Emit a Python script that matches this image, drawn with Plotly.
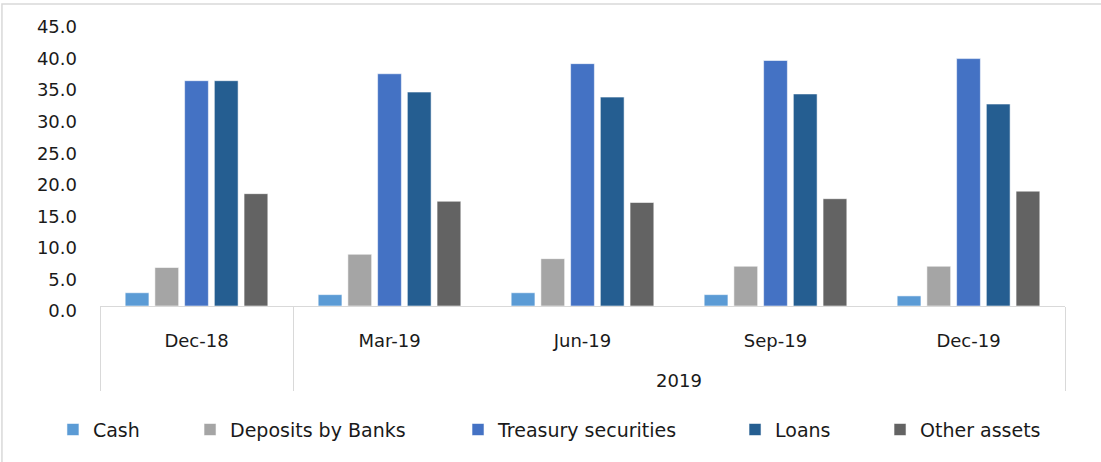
import plotly.graph_objects as go

# Quarter labels (inner level) and their year grouping (outer level)
quarters = ["Dec-18", "Mar-19", "Jun-19", "Sep-19", "Dec-19"]
years = ["", "2019", "2019", "2019", "2019"]

# Share of total assets, per cent
cash = [2.1, 1.8, 2.1, 1.8, 1.6]
deposits_by_banks = [6.1, 8.2, 7.5, 6.3, 6.3]
treasury_securities = [35.7, 36.8, 38.4, 38.9, 39.2]
loans = [35.7, 33.9, 33.1, 33.6, 32.0]
other_assets = [17.8, 16.6, 16.4, 17.0, 18.2]

series_names = ["Cash", "Deposits by Banks", "Treasury securities", "Loans", "Other assets"]
series_values = [cash, deposits_by_banks, treasury_securities, loans, other_assets]
series_colors = ["#5B9BD5", "#A5A5A5", "#4472C4", "#255E91", "#636363"]

# Left edge (container fraction) of each legend entry
legend_x = [0.0481, 0.1726, 0.416, 0.6676, 0.7993]

FONT = "DejaVu Sans"
GRID = "#D9D9D9"
TEXT = "#1a1a1a"

# Tall blank padding on both sides of each quarter label deepens the first row
PAD = "<span style='font-size:48px'>\u00a0</span>"
inner = [PAD + q + PAD for q in quarters]

fig = go.Figure()
for i, (name, vals, color) in enumerate(zip(series_names, series_values, series_colors)):
    fig.add_trace(go.Bar(
        x=[years, inner],
        y=vals,
        name=name,
        showlegend=True,
        marker=dict(color=color, line=dict(color="rgba(255,255,255,0.55)", width=1)),
        legend="legend" if i == 0 else f"legend{i + 1}",
    ))

legends = {}
for i, lx in enumerate(legend_x):
    key = "legend" if i == 0 else f"legend{i + 1}"
    legends[key] = dict(
        x=lx, y=0.07, xref="container", yref="container",
        xanchor="left", yanchor="middle",
        orientation="h", bgcolor="rgba(0,0,0,0)",
        font=dict(family=FONT, size=19, color=TEXT),
    )

fig.update_layout(
    width=1101, height=462,
    margin=dict(l=100, r=36, t=22, b=155.5, autoexpand=False),
    paper_bgcolor="white", plot_bgcolor="white",
    barmode="group", bargap=0.23, bargroupgap=0.2,
    showlegend=True,
    font=dict(family=FONT, size=18, color=TEXT),
    **legends,
)

fig.update_yaxes(
    range=[0, 45], dtick=5, tickformat=".1f", automargin=False,
    showgrid=False, zeroline=False, showline=False,
    ticks="", ticklabelstandoff=22, ticklabelshift=5,
    tickfont=dict(family=FONT, size=18, color=TEXT),
)
fig.update_xaxes(
    type="multicategory", automargin=False,
    showline=True, linecolor=GRID, linewidth=1,
    showdividers=True, dividercolor=GRID, dividerwidth=1,
    ticks="", ticklabelstandoff=18,
    tickfont=dict(family=FONT, size=18, color=TEXT),
)

# Chart-area border
fig.add_shape(
    type="rect", xref="paper", yref="paper",
    x0=-0.1016, x1=1.2, y0=-0.8, y1=1.0633,
    line=dict(color=GRID, width=1.5), fillcolor="rgba(0,0,0,0)", layer="below",
)

fig.write_html("out.html")
